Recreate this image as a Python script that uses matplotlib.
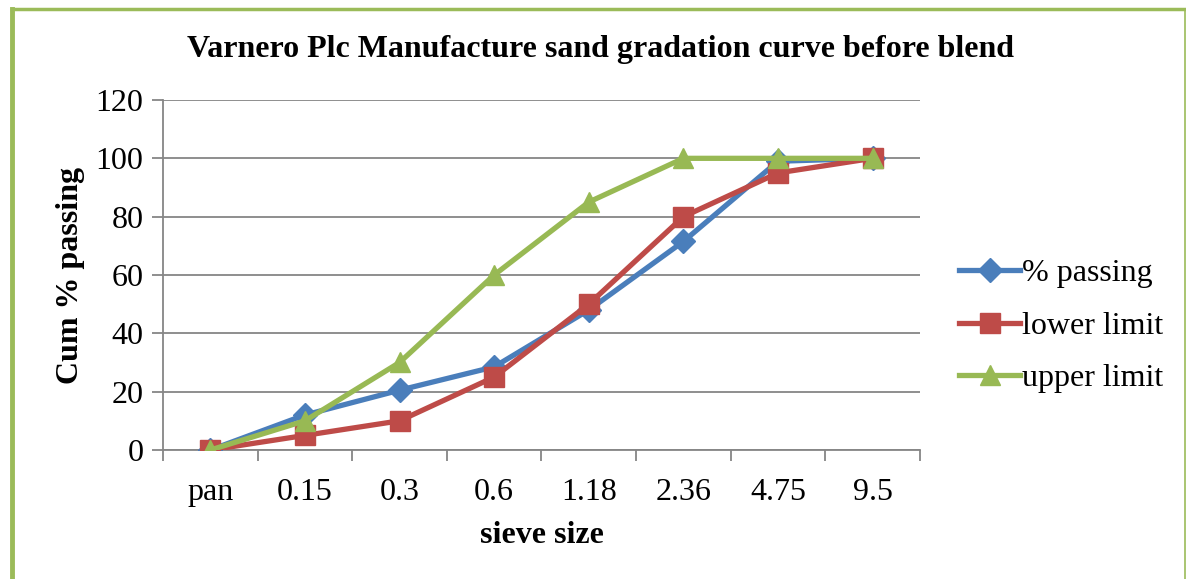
import numpy as np
import matplotlib.pyplot as plt
from matplotlib.lines import Line2D

plt.rcParams['font.family'] = ['Liberation Serif', 'DejaVu Serif']

sieves = ['pan', '0.15', '0.3', '0.6', '1.18', '2.36', '4.75', '9.5']
passing = [0, 12, 20.5, 28.5, 48, 71.5, 99, 100]
lower = [0, 5, 10, 25, 50, 80, 95, 100]
upper = [0, 10, 30, 60, 85, 100, 100, 100]

fig = plt.figure(figsize=(11.86, 5.79), dpi=100)
ax = fig.add_axes([0.1374, 0.2228, 0.6383, 0.6045])

x = np.arange(len(sieves))
ax.plot(x, passing, color='#4A7EBB', lw=3.8, marker='D', ms=12, label='% passing', zorder=3)
ax.plot(x, lower, color='#BE4B48', lw=3.8, marker='s', ms=14, label='lower limit', zorder=4)
ax.plot(x, upper, color='#98B954', lw=3.8, marker='^', ms=15, label='upper limit', zorder=5)

ax.set_xlim(-0.5, len(sieves) - 0.5)
ax.set_ylim(0, 120)
ax.set_yticks(range(0, 121, 20))
ax.set_xticks(x)
ax.set_xticklabels(sieves)
ax.set_xticks(np.arange(-0.5, len(sieves)), minor=True)
ax.tick_params(axis='x', which='major', length=0, pad=20, labelsize=23)
ax.tick_params(axis='x', which='minor', length=8, color='#868686', width=1.3)
ax.tick_params(axis='y', length=8, color='#868686', width=1.3, labelsize=23, pad=6)
ax.grid(axis='y', color='#868686', lw=1.3)
ax.set_axisbelow(True)
for s in ['top', 'right']:
    ax.spines[s].set_visible(False)
ax.spines['left'].set_color('#868686')
ax.spines['bottom'].set_color('#868686')
ax.spines['left'].set_linewidth(1.3)
ax.spines['bottom'].set_linewidth(1.3)

ax.set_xlabel('sieve size', fontsize=23, fontweight='bold', labelpad=10)
ax.set_ylabel('Cum % passing', fontsize=23, fontweight='bold', labelpad=8)
fig.text(0.506, 0.915, 'Varnero Plc Manufacture sand gradation curve before blend',
         fontsize=23, fontweight='bold', ha='center', va='center')

ax.legend(loc='center left', bbox_to_anchor=(1.035, 0.354), frameon=False, fontsize=23,
          handlelength=1.9, handletextpad=0.05, labelspacing=0.72, borderaxespad=0)

# green frame round the chart
fig.add_artist(Line2D([0.0105, 0.0105], [0, 0.985], color='#9BBB59', lw=3.5))
fig.add_artist(Line2D([0.0105, 0.999], [0.985, 0.985], color='#9BBB59', lw=2.5))
fig.add_artist(Line2D([0.999, 0.999], [0, 0.985], color='#9BBB59', lw=1.2))

fig.savefig('out.png', dpi=100)
